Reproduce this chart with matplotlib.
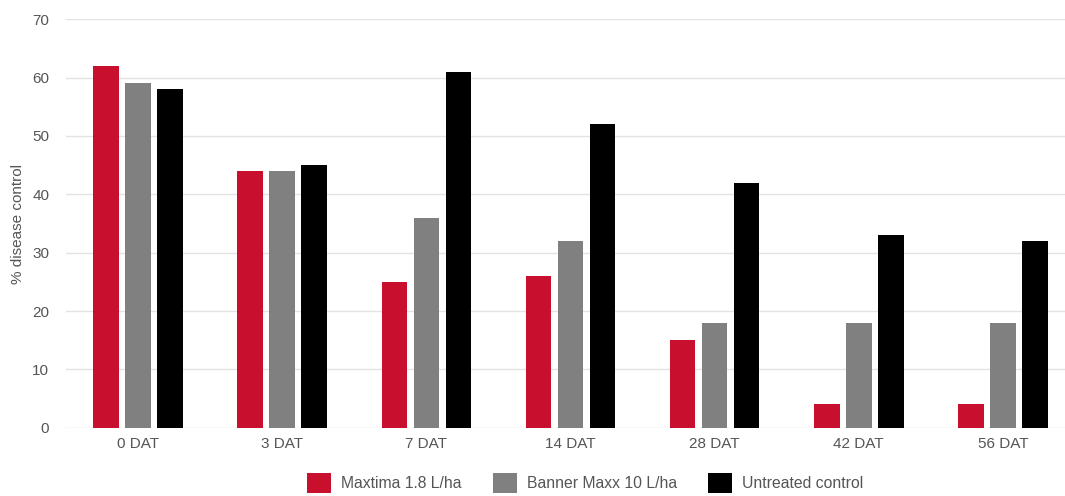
import matplotlib.pyplot as plt
import numpy as np

plt.rcParams['font.family'] = ['Liberation Sans', 'DejaVu Sans']

categories = ['0 DAT', '3 DAT', '7 DAT', '14 DAT', '28 DAT', '42 DAT', '56 DAT']
maxtima = [62, 44, 25, 26, 15, 4, 4]
banner = [59, 44, 36, 32, 18, 18, 18]
untreated = [58, 45, 61, 52, 42, 33, 32]
series_names = ['Maxtima 1.8 L/ha', 'Banner Maxx 10 L/ha', 'Untreated control']
colors = ['#c8102e', '#808080', '#000000']

W, H = 1065, 496
fig = plt.figure(figsize=(W / 100, H / 100), dpi=100)
left, right, top, bottom = 66, 1075, 19.3, 427.7
ax = fig.add_axes([left / W, 1 - bottom / H, (right - left) / W, (bottom - top) / H])

x = np.arange(len(categories))
width = 0.177
offset = 0.222
for i, (vals, name, c) in enumerate(zip([maxtima, banner, untreated], series_names, colors)):
    ax.bar(x + (i - 1) * offset, vals, width, color=c, label=name, zorder=3)

ax.set_xlim(-0.5, len(categories) - 0.5)
ax.set_ylim(0, 70)
ax.set_yticks(range(0, 71, 10))
ax.set_xticks(x)
ax.set_xticklabels(categories)
ax.grid(axis='y', color='#e3e3e3', linewidth=1, zorder=0)
ax.tick_params(axis='both', length=0, labelsize=11, labelcolor='#555555')
ax.tick_params(axis='x', pad=7)
ax.tick_params(axis='y', pad=12)
for s in ax.spines.values():
    s.set_visible(False)
ax.set_ylabel('% disease control', fontsize=11, color='#555555', labelpad=5.5)

fig.legend(loc='center', bbox_to_anchor=(585 / W, 1 - 483 / H), ncol=3, frameon=False,
           fontsize=11.3, labelcolor='#555555', handlelength=1.53, handleheight=1.53,
           handletextpad=0.64, columnspacing=2.0)

fig.savefig('out.png', dpi=100)
